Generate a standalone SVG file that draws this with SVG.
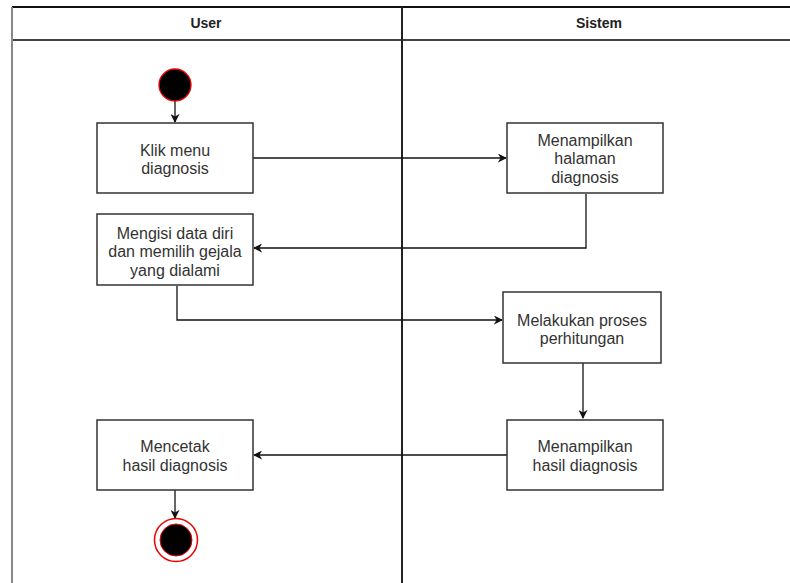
<svg xmlns="http://www.w3.org/2000/svg" width="790" height="583" viewBox="0 0 790 583">
  <style>
    .head { font-family: "Liberation Sans", Arial, sans-serif; font-size: 14px; font-weight: bold; fill: #222; text-anchor: middle; }
    .box { fill: #fff; stroke: #333; stroke-width: 1.5; }
    .lbl { font-family: "Liberation Sans", Arial, sans-serif; font-size: 16px; fill: #333; text-anchor: middle; }
    .edge { stroke: #111; stroke-width: 1.3; fill: none; marker-end: url(#arrow); }
  </style>
  <defs>
    <marker id="arrow" viewBox="0 0 10 10" refX="9" refY="5" markerWidth="9" markerHeight="9" markerUnits="userSpaceOnUse" orient="auto">
      <path d="M0,0 L10,5 L0,10 L3,5 Z" fill="#111"/>
    </marker>
  </defs>
  <rect width="790" height="583" fill="#fff"/>

  <!-- swimlanes -->
  <g id="lanes">
    <line x1="12" y1="7" x2="790" y2="7" stroke="#111" stroke-width="2"/>
    <line x1="12" y1="40" x2="790" y2="40" stroke="#444" stroke-width="2"/>
    <line x1="12" y1="7" x2="12" y2="583" stroke="#888" stroke-width="2"/>
    <line x1="402" y1="7" x2="402" y2="583" stroke="#222" stroke-width="2"/>
    <text class="head" x="206" y="28">User</text>
    <text class="head" x="599" y="28">Sistem</text>
  </g>

  <!-- connectors -->
  <g id="connectors">
    <path class="edge" d="M175,101 V122"/>
    <path class="edge" d="M253,158 H506"/>
    <path class="edge" d="M586,194 V248 H254"/>
    <path class="edge" d="M177,286 V320 H502"/>
    <path class="edge" d="M583,363 V418"/>
    <path class="edge" d="M507,455 H254"/>
    <path class="edge" d="M175,490 V518"/>
  </g>

  <g id="start">
    <circle cx="175" cy="85" r="16" fill="#000" stroke="#e00" stroke-width="1.3"/>
  </g>

  <g id="klik-menu">
    <rect class="box" x="97" y="123" width="156" height="70"/>
    <text class="lbl" x="175" y="156">Klik menu</text>
    <text class="lbl" x="175" y="174">diagnosis</text>
  </g>

  <g id="tampil-halaman">
    <rect class="box" x="507" y="123" width="156" height="70"/>
    <text class="lbl" x="585" y="146">Menampilkan</text>
    <text class="lbl" x="585" y="164">halaman</text>
    <text class="lbl" x="585" y="183">diagnosis</text>
  </g>

  <g id="mengisi-data">
    <rect class="box" x="97" y="214" width="156" height="71"/>
    <text class="lbl" x="175" y="239">Mengisi data diri</text>
    <text class="lbl" x="175" y="257">dan memilih gejala</text>
    <text class="lbl" x="175" y="276">yang dialami</text>
  </g>

  <g id="proses-hitung">
    <rect class="box" x="503" y="292" width="158" height="71"/>
    <text class="lbl" x="582" y="326">Melakukan proses</text>
    <text class="lbl" x="582" y="344">perhitungan</text>
  </g>

  <g id="tampil-hasil">
    <rect class="box" x="507" y="420" width="156" height="70"/>
    <text class="lbl" x="585" y="452">Menampilkan</text>
    <text class="lbl" x="585" y="471">hasil diagnosis</text>
  </g>

  <g id="mencetak">
    <rect class="box" x="97" y="420" width="156" height="70"/>
    <text class="lbl" x="175" y="452">Mencetak</text>
    <text class="lbl" x="175" y="471">hasil diagnosis</text>
  </g>

  <g id="end">
    <circle cx="176" cy="540" r="21.5" fill="#fff" stroke="#e00" stroke-width="1.5"/>
    <circle cx="176" cy="540" r="16" fill="#000" stroke="#e00" stroke-width="1"/>
  </g>
</svg>
